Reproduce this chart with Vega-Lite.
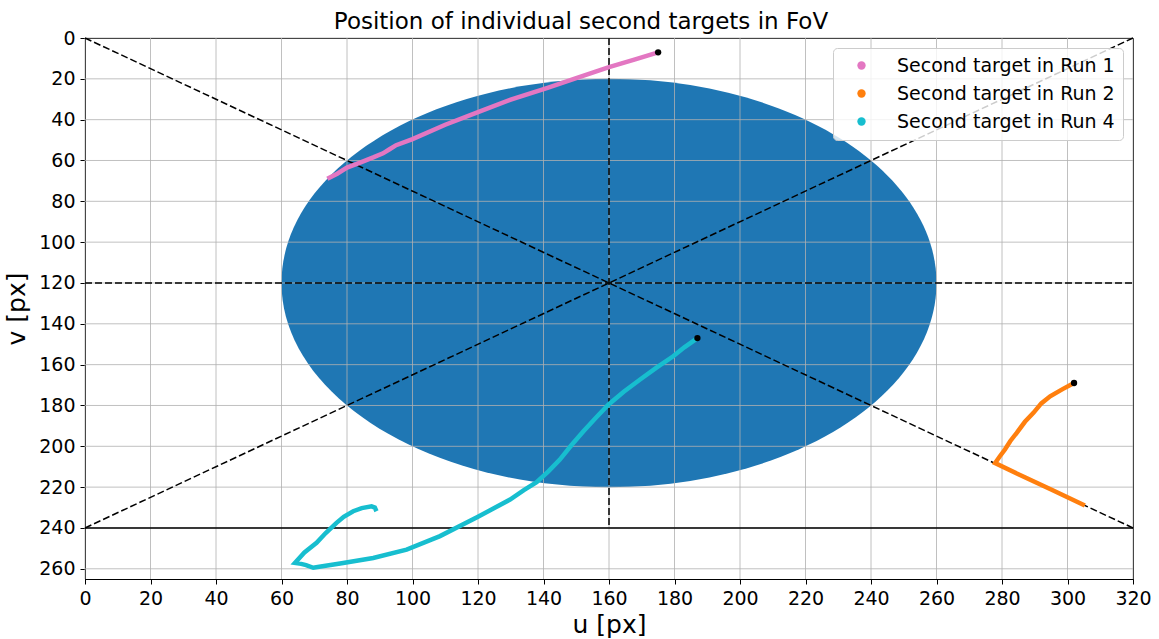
{
  "$schema": "https://vega.github.io/schema/vega-lite/v6.json",
  "autosize": {"type": "none"},
  "padding": {"left": 85, "top": 38, "right": 26, "bottom": 60},
  "width": 1048,
  "height": 541,
  "background": "white",
  "config": {
    "font": "DejaVu Sans",
    "view": {"stroke": "black", "strokeWidth": 1},
    "axis": {
      "grid": false,
      "domainColor": "black",
      "tickColor": "black",
      "labelColor": "black",
      "titleColor": "black",
      "tickSize": 5,
      "labelPadding": 5,
      "labelFontSize": 19,
      "labelFlush": false,
      "labelOverlap": false,
      "titleFontSize": 25,
      "titleFontWeight": "normal"
    }
  },
  "title": {"text": "Position of individual second targets in FoV", "fontSize": 23, "fontWeight": "normal", "color": "black", "offset": 4, "dy": 9, "dx": -28},
  "datasets": {
    "ellipse": [{"u": 160, "v": 120}],
    "gridU": [{"u": 0}, {"u": 20}, {"u": 40}, {"u": 60}, {"u": 80}, {"u": 100}, {"u": 120}, {"u": 140}, {"u": 160}, {"u": 180}, {"u": 200}, {"u": 220}, {"u": 240}, {"u": 260}, {"u": 280}, {"u": 300}, {"u": 320}],
    "gridV": [{"v": 0}, {"v": 20}, {"v": 40}, {"v": 60}, {"v": 80}, {"v": 100}, {"v": 120}, {"v": 140}, {"v": 160}, {"v": 180}, {"v": 200}, {"v": 220}, {"v": 240}, {"v": 260}],
    "dashed": [
      {"u": 0, "v": 0, "u2": 320, "v2": 240},
      {"u": 0, "v": 240, "u2": 320, "v2": 0},
      {"u": 160, "v": 0, "u2": 160, "v2": 240},
      {"u": 0, "v": 120, "u2": 320, "v2": 120}
    ],
    "solid": [{"u": 0, "v": 240, "u2": 320, "v2": 240}],
    "tracks": [
      {"run": "Second target in Run 1", "i": 1, "u": 74, "v": 69},
      {"run": "Second target in Run 1", "i": 2, "u": 77, "v": 66.5},
      {"run": "Second target in Run 1", "i": 3, "u": 80, "v": 63.5},
      {"run": "Second target in Run 1", "i": 4, "u": 84, "v": 61},
      {"run": "Second target in Run 1", "i": 5, "u": 88, "v": 58.5},
      {"run": "Second target in Run 1", "i": 6, "u": 91, "v": 56.5},
      {"run": "Second target in Run 1", "i": 7, "u": 93, "v": 54.5},
      {"run": "Second target in Run 1", "i": 8, "u": 95, "v": 52.5},
      {"run": "Second target in Run 1", "i": 9, "u": 100, "v": 49.5},
      {"run": "Second target in Run 1", "i": 10, "u": 110, "v": 42.5},
      {"run": "Second target in Run 1", "i": 11, "u": 120, "v": 36.3},
      {"run": "Second target in Run 1", "i": 12, "u": 130, "v": 30.2},
      {"run": "Second target in Run 1", "i": 13, "u": 141, "v": 24.5},
      {"run": "Second target in Run 1", "i": 14, "u": 150, "v": 19.6},
      {"run": "Second target in Run 1", "i": 15, "u": 160, "v": 14.3},
      {"run": "Second target in Run 1", "i": 16, "u": 168, "v": 10.5},
      {"run": "Second target in Run 1", "i": 17, "u": 175, "v": 7},
      {"run": "Second target in Run 2", "i": 1, "u": 302, "v": 169},
      {"run": "Second target in Run 2", "i": 2, "u": 298.5, "v": 172},
      {"run": "Second target in Run 2", "i": 3, "u": 294.7, "v": 175.5},
      {"run": "Second target in Run 2", "i": 4, "u": 292, "v": 179},
      {"run": "Second target in Run 2", "i": 5, "u": 289.6, "v": 183.6},
      {"run": "Second target in Run 2", "i": 6, "u": 287, "v": 188},
      {"run": "Second target in Run 2", "i": 7, "u": 284.5, "v": 193.4},
      {"run": "Second target in Run 2", "i": 8, "u": 282.5, "v": 197.5},
      {"run": "Second target in Run 2", "i": 9, "u": 280.9, "v": 201.6},
      {"run": "Second target in Run 2", "i": 10, "u": 279.3, "v": 205},
      {"run": "Second target in Run 2", "i": 11, "u": 277.9, "v": 208.2},
      {"run": "Second target in Run 2", "i": 12, "u": 285, "v": 213.7},
      {"run": "Second target in Run 2", "i": 13, "u": 295, "v": 221.2},
      {"run": "Second target in Run 2", "i": 14, "u": 305.3, "v": 229},
      {"run": "Second target in Run 4", "i": 1, "u": 187, "v": 147},
      {"run": "Second target in Run 4", "i": 2, "u": 183, "v": 151.5},
      {"run": "Second target in Run 4", "i": 3, "u": 179.6, "v": 155.9},
      {"run": "Second target in Run 4", "i": 4, "u": 174.5, "v": 161.5},
      {"run": "Second target in Run 4", "i": 5, "u": 169.5, "v": 167.3},
      {"run": "Second target in Run 4", "i": 6, "u": 164.5, "v": 173.3},
      {"run": "Second target in Run 4", "i": 7, "u": 159.8, "v": 179.6},
      {"run": "Second target in Run 4", "i": 8, "u": 156, "v": 186},
      {"run": "Second target in Run 4", "i": 9, "u": 152.2, "v": 192.6},
      {"run": "Second target in Run 4", "i": 10, "u": 148.5, "v": 199.5},
      {"run": "Second target in Run 4", "i": 11, "u": 145, "v": 206.5},
      {"run": "Second target in Run 4", "i": 12, "u": 141.5, "v": 212.3},
      {"run": "Second target in Run 4", "i": 13, "u": 137.9, "v": 217.6},
      {"run": "Second target in Run 4", "i": 14, "u": 134, "v": 221.5},
      {"run": "Second target in Run 4", "i": 15, "u": 129.8, "v": 226.1},
      {"run": "Second target in Run 4", "i": 16, "u": 120, "v": 234.5},
      {"run": "Second target in Run 4", "i": 17, "u": 108.4, "v": 244},
      {"run": "Second target in Run 4", "i": 18, "u": 98.2, "v": 250.6},
      {"run": "Second target in Run 4", "i": 19, "u": 88, "v": 254.7},
      {"run": "Second target in Run 4", "i": 20, "u": 77.9, "v": 257.4},
      {"run": "Second target in Run 4", "i": 21, "u": 72, "v": 258.9},
      {"run": "Second target in Run 4", "i": 22, "u": 69.7, "v": 259.5},
      {"run": "Second target in Run 4", "i": 23, "u": 67.5, "v": 258.2},
      {"run": "Second target in Run 4", "i": 24, "u": 66, "v": 257.6},
      {"run": "Second target in Run 4", "i": 25, "u": 64.1, "v": 257.1},
      {"run": "Second target in Run 4", "i": 26, "u": 67, "v": 252},
      {"run": "Second target in Run 4", "i": 27, "u": 70.7, "v": 247.3},
      {"run": "Second target in Run 4", "i": 28, "u": 73.5, "v": 242.5},
      {"run": "Second target in Run 4", "i": 29, "u": 76.8, "v": 237.5},
      {"run": "Second target in Run 4", "i": 30, "u": 79, "v": 234.5},
      {"run": "Second target in Run 4", "i": 31, "u": 81.9, "v": 231.8},
      {"run": "Second target in Run 4", "i": 32, "u": 84.5, "v": 230.3},
      {"run": "Second target in Run 4", "i": 33, "u": 87.5, "v": 229.4},
      {"run": "Second target in Run 4", "i": 34, "u": 88.5, "v": 230},
      {"run": "Second target in Run 4", "i": 35, "u": 89, "v": 231.8}
    ],
    "dots": [{"u": 175, "v": 7}, {"u": 302, "v": 169}, {"u": 187, "v": 147}]
  },
  "layer": [
    {
      "data": {"name": "ellipse"},
      "mark": {"type": "point", "shape": "M -1 0 A 1 0.6234 0 1 1 1 0 A 1 0.6234 0 1 1 -1 0 Z", "size": 429025, "filled": true, "fill": "#1f77b4", "opacity": 1, "strokeWidth": 0, "clip": true},
      "encoding": {
        "x": {"field": "u", "type": "quantitative", "scale": {"domain": [0, 320], "nice": false, "zero": false}, "axis": {"title": "u [px]", "values": [0, 20, 40, 60, 80, 100, 120, 140, 160, 180, 200, 220, 240, 260, 280, 300, 320], "titlePadding": 4}},
        "y": {"field": "v", "type": "quantitative", "scale": {"domain": [0, 265], "nice": false, "zero": false, "reverse": true}, "axis": {"title": "v [px]", "values": [0, 20, 40, 60, 80, 100, 120, 140, 160, 180, 200, 220, 240, 260], "titlePadding": 9}}
      }
    },
    {
      "data": {"name": "gridU"},
      "mark": {"type": "rule", "color": "#b0b0b0", "strokeWidth": 0.8},
      "encoding": {
        "x": {"field": "u", "type": "quantitative", "scale": {"domain": [0, 320], "nice": false, "zero": false}, "axis": {"title": "u [px]"}}
      }
    },
    {
      "data": {"name": "gridV"},
      "mark": {"type": "rule", "color": "#b0b0b0", "strokeWidth": 0.8},
      "encoding": {
        "y": {"field": "v", "type": "quantitative", "scale": {"domain": [0, 265], "nice": false, "zero": false, "reverse": true}, "axis": {"title": "v [px]"}}
      }
    },
    {
      "data": {"name": "dashed"},
      "mark": {"type": "rule", "color": "black", "strokeWidth": 1.5, "strokeDash": [7, 3]},
      "encoding": {
        "x": {"field": "u", "type": "quantitative", "scale": {"domain": [0, 320], "nice": false, "zero": false}, "axis": {"title": "u [px]"}},
        "y": {"field": "v", "type": "quantitative", "scale": {"domain": [0, 265], "nice": false, "zero": false, "reverse": true}, "axis": {"title": "v [px]"}},
        "x2": {"field": "u2"},
        "y2": {"field": "v2"}
      }
    },
    {
      "data": {"name": "solid"},
      "mark": {"type": "rule", "color": "black", "strokeWidth": 1.5},
      "encoding": {
        "x": {"field": "u", "type": "quantitative", "scale": {"domain": [0, 320], "nice": false, "zero": false}, "axis": {"title": "u [px]"}},
        "y": {"field": "v", "type": "quantitative", "scale": {"domain": [0, 265], "nice": false, "zero": false, "reverse": true}, "axis": {"title": "v [px]"}},
        "x2": {"field": "u2"},
        "y2": {"field": "v2"}
      }
    },
    {
      "data": {"name": "tracks"},
      "mark": {"type": "line", "strokeWidth": 4.5},
      "encoding": {
        "x": {"field": "u", "type": "quantitative", "scale": {"domain": [0, 320], "nice": false, "zero": false}, "axis": {"title": "u [px]"}},
        "y": {"field": "v", "type": "quantitative", "scale": {"domain": [0, 265], "nice": false, "zero": false, "reverse": true}, "axis": {"title": "v [px]"}},
        "order": {"field": "i", "type": "quantitative"},
        "color": {
          "field": "run", "type": "nominal",
          "scale": {"domain": ["Second target in Run 1", "Second target in Run 2", "Second target in Run 4"], "range": ["#e377c2", "#ff7f0e", "#17becf"]},
          "legend": {
            "title": null, "orient": "top-right", "offset": 10,
            "symbolType": "circle", "symbolSize": 70, "symbolStrokeWidth": 0,
            "labelFontSize": 19, "labelColor": "black", "labelLimit": 400, "rowPadding": 8, "padding": 8,
            "symbolOffset": 11, "labelOffset": 26,
            "fillColor": "rgba(255,255,255,0.8)", "strokeColor": "#cccccc", "cornerRadius": 4,
            "encode": {"symbols": {"update": {"fill": {"scale": "color", "field": "value"}, "opacity": {"value": 1}}}}
          }
        }
      }
    },
    {
      "data": {"name": "dots"},
      "mark": {"type": "point", "filled": true, "color": "black", "size": 40, "opacity": 1},
      "encoding": {
        "x": {"field": "u", "type": "quantitative", "scale": {"domain": [0, 320], "nice": false, "zero": false}, "axis": {"title": "u [px]"}},
        "y": {"field": "v", "type": "quantitative", "scale": {"domain": [0, 265], "nice": false, "zero": false, "reverse": true}, "axis": {"title": "v [px]"}}
      }
    }
  ]
}
